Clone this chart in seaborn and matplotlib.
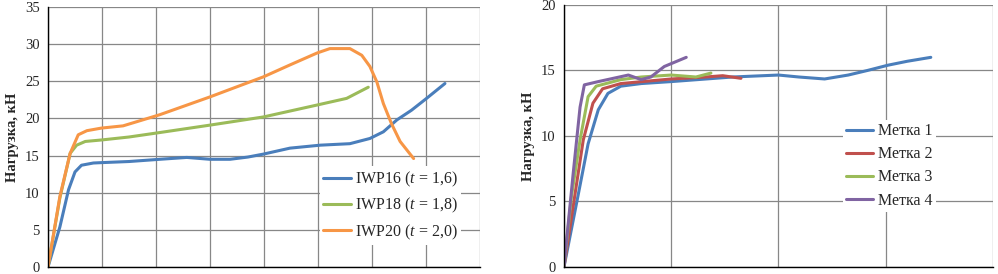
import pandas as pd
import seaborn as sns
import matplotlib.pyplot as plt

OUTPUT_PATH = "out.png"

# left panel: load vs displacement (x in grid units, labels cropped in source)
iwp16_x = [0, 0.22, 0.38, 0.5, 0.62, 0.84, 0.99, 1.5, 2.07, 2.57, 3.0, 3.37, 3.7, 3.99, 4.48,
           5.04, 5.59, 5.96, 6.21, 6.46, 6.73, 7.01, 7.35]
iwp16_y = [0, 5.4, 10.4, 12.8, 13.7, 14.0, 14.05, 14.2, 14.5, 14.75, 14.5, 14.5, 14.8, 15.2, 16.0,
           16.4, 16.6, 17.3, 18.2, 19.8, 21.1, 22.7, 24.7]
iwp18_x = [0, 0.22, 0.41, 0.53, 0.69, 0.99, 1.5, 2.07, 3.0, 3.99, 4.98, 5.53, 5.93]
iwp18_y = [0, 9.3, 15.3, 16.4, 16.9, 17.1, 17.5, 18.1, 19.1, 20.2, 21.8, 22.7, 24.2]
iwp20_x = [0, 0.22, 0.41, 0.56, 0.72, 0.99, 1.39, 2.07, 3.0, 3.99, 4.48, 4.98, 5.22, 5.59,
           5.81, 5.96, 6.09, 6.21, 6.36, 6.52, 6.77]
iwp20_y = [0, 9.5, 15.3, 17.8, 18.35, 18.7, 19.0, 20.5, 22.9, 25.6, 27.2, 28.8, 29.4, 29.4,
           28.5, 27.0, 24.9, 22.0, 19.3, 16.9, 14.6]
left_labels = ["IWP16 ($\\it{t}$ = 1,6)", "IWP18 ($\\it{t}$ = 1,8)", "IWP20 ($\\it{t}$ = 2,0)"]
left_colors = ["#4A7EBB", "#9BBB59", "#F79646"]

# right panel: marks 1-4
m1_x = [0, 0.13, 0.225, 0.32, 0.41, 0.53, 0.72, 1.0, 1.57, 2.0, 2.19, 2.43, 2.65, 2.83, 3.02, 3.2, 3.42]
m1_y = [0, 5.4, 9.4, 12.0, 13.25, 13.8, 14.0, 14.15, 14.5, 14.65, 14.5, 14.35, 14.65, 15.0, 15.4, 15.7, 16.0]
m2_x = [0, 0.10, 0.18, 0.27, 0.36, 0.53, 1.0, 1.32, 1.48, 1.65]
m2_y = [0, 5.4, 9.7, 12.5, 13.6, 14.0, 14.35, 14.5, 14.6, 14.4]
m3_x = [0, 0.07, 0.15, 0.225, 0.30, 0.53, 0.72, 1.0, 1.23, 1.37]
m3_y = [0, 5.4, 9.7, 13.0, 13.8, 14.3, 14.5, 14.65, 14.5, 14.8]
m4_x = [0, 0.086, 0.15, 0.19, 0.32, 0.60, 0.72, 0.81, 0.935, 1.14]
m4_y = [0, 7.15, 12.2, 13.9, 14.15, 14.65, 14.3, 14.5, 15.3, 16.0]
right_labels = ["Метка 1", "Метка 2", "Метка 3", "Метка 4"]
right_colors = ["#4A7EBB", "#C0504D", "#9BBB59", "#8064A2"]


def long_df(series, labels):
    frames = []
    for (xs, ys), lab in zip(series, labels):
        frames.append(pd.DataFrame({"x": xs, "y": ys, "series": lab}))
    return pd.concat(frames, ignore_index=True)


def style_axes(ax, xmax, ymax, ystep):
    ax.set_xlim(0, xmax)
    ax.set_ylim(0, ymax)
    ax.set_xticks(range(0, xmax + 1))
    ax.set_xticklabels([])
    ax.set_yticks(range(0, ymax + 1, ystep))
    ax.grid(True, color="#878787", linewidth=0.9)
    ax.set_axisbelow(True)
    for side in ["top", "right"]:
        ax.spines[side].set_visible(False)
    for side in ["left", "bottom"]:
        ax.spines[side].set_color("black")
        ax.spines[side].set_linewidth(1.0)
    ax.tick_params(axis="x", direction="out", length=6, color="black", width=1)
    ax.tick_params(axis="y", direction="out", length=4, color="black", width=1,
                   labelsize=10.5, pad=2)
    ax.set_xlabel("")
    ax.set_ylabel("Нагрузка, кН", fontsize=10.5, fontweight="bold", labelpad=4)


def main() -> None:
    sns.set_theme(style="white")
    plt.rcParams["font.family"] = ["Liberation Serif", "DejaVu Serif"]
    plt.rcParams["mathtext.fontset"] = "custom"
    plt.rcParams["mathtext.it"] = "Liberation Serif:italic"
    plt.rcParams["mathtext.rm"] = "Liberation Serif"
    plt.rcParams["lines.solid_joinstyle"] = "round"
    plt.rcParams["lines.solid_capstyle"] = "round"

    fig = plt.figure(figsize=(9.98, 2.74), dpi=100)
    ax1 = fig.add_axes([0.0481, 0.0255, 0.4329, 0.949])
    ax2 = fig.add_axes([0.5651, 0.0255, 0.4299, 0.9565])

    left_df = long_df([(iwp16_x, iwp16_y), (iwp18_x, iwp18_y), (iwp20_x, iwp20_y)], left_labels)
    sns.lineplot(data=left_df, x="x", y="y", hue="series", palette=left_colors,
                 sort=False, estimator=None, linewidth=2.2, ax=ax1)
    style_axes(ax1, 8, 35, 5)
    ax1.legend(loc="lower right", bbox_to_anchor=(0.975, 0.055), frameon=True,
               facecolor="white", edgecolor="none", framealpha=1, fontsize=11.5,
               handlelength=1.7, handletextpad=0.3, labelspacing=0.45, borderpad=0.2)

    right_df = long_df([(m1_x, m1_y), (m2_x, m2_y), (m3_x, m3_y), (m4_x, m4_y)], right_labels)
    sns.lineplot(data=right_df, x="x", y="y", hue="series", palette=right_colors,
                 sort=False, estimator=None, linewidth=2.2, ax=ax2)
    style_axes(ax2, 4, 20, 5)
    ax2.legend(loc="lower right", bbox_to_anchor=(0.885, 0.18), frameon=True,
               facecolor="white", edgecolor="none", framealpha=1, fontsize=11.5,
               handlelength=1.7, handletextpad=0.3, labelspacing=0.45, borderpad=0.2)

    fig.savefig(OUTPUT_PATH, dpi=100)
    plt.close(fig)


if __name__ == "__main__":
    main()
